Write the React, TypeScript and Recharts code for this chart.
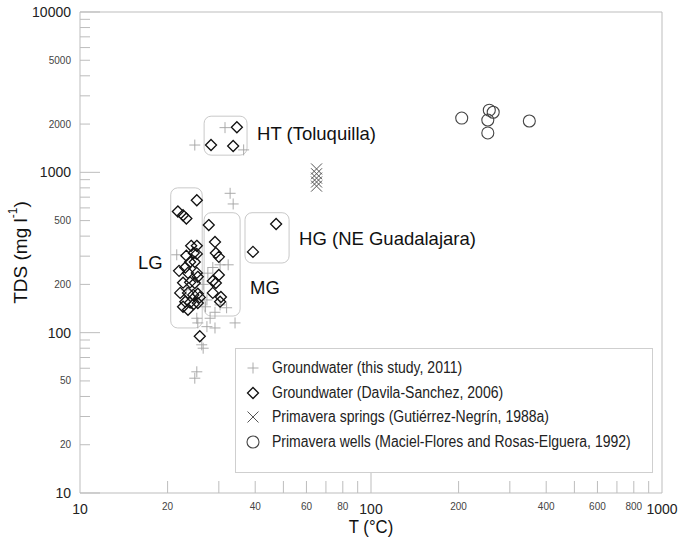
import React from "react";
import {
  Legend,
  ReferenceArea,
  ReferenceLine,
  Scatter,
  ScatterChart,
  XAxis,
  YAxis
} from "recharts";

// axis ticks (log scales)
const xTicks = [10, 20, 30, 40, 50, 60, 70, 80, 90, 100, 200, 300, 400, 500, 600, 700, 800, 900, 1000];
const xTickLabels = [10, 20, 40, 60, 80, 100, 200, 400, 600, 800, 1000];
const yTicks = [
  10, 20, 30, 40, 50, 60, 70, 80, 90,
  100, 200, 300, 400, 500, 600, 700, 800, 900,
  1000, 2000, 3000, 4000, 5000, 6000, 7000, 8000, 9000, 10000
];
const yTickLabels = [10, 20, 50, 100, 200, 500, 1000, 2000, 5000, 10000];
const decades = [10, 100, 1000, 10000];

// [T (°C), TDS (mg/l)]
const gwThisStudy: [number, number][] = [
  [24.8, 1480], [31.5, 1900], [36.5, 1380], [32.8, 740], [33.6, 635],
  [21.5, 306], [27.5, 235], [28.6, 255], [30.3, 265], [32.3, 265],
  [27.3, 160], [30.3, 149], [31.9, 143], [29.1, 134], [28.0, 123],
  [25.2, 123], [27.3, 109], [29.1, 107], [34.1, 115], [25.4, 115],
  [26.2, 84], [26.5, 80], [25.2, 57], [24.8, 52], [23.2, 185],
  [24.8, 160], [26.5, 200], [27.0, 145]
];
const gwDavila: [number, number][] = [
  [28.2, 1480], [33.6, 1460], [34.6, 1910],
  [25.2, 670], [21.7, 570], [22.6, 540], [23.2, 515],
  [24.1, 348], [25.2, 348], [24.6, 314], [25.2, 310], [23.2, 302],
  [23.9, 276], [24.8, 276], [21.9, 243], [23.0, 255], [23.5, 236],
  [25.2, 236], [25.4, 223], [22.6, 205], [23.9, 206], [24.8, 204],
  [22.1, 177], [23.5, 177], [24.5, 172], [25.4, 175], [25.8, 166],
  [23.0, 156], [23.9, 154], [24.6, 151], [22.6, 145], [23.5, 139],
  [25.4, 153], [25.8, 95],
  [27.7, 469], [29.1, 368], [29.3, 314], [30.0, 297], [30.0, 229],
  [28.6, 210], [29.3, 204], [28.6, 177], [30.5, 167], [30.3, 156],
  [47.2, 476], [39.3, 319]
];
const primaveraSprings: [number, number][] = [
  [65, 1050], [65, 980], [65, 920], [65, 870], [65, 820]
];
const primaveraWells: [number, number][] = [
  [205, 2180], [255, 2440], [263, 2370], [252, 2120], [252, 1760], [350, 2090]
];

// group outlines: T range, TDS range
const groupNames = ["HT (Toluquilla)", "LG", "MG", "HG (NE Guadalajara)"];
const groupT: [number, number][] = [[26.7, 37.5], [20.5, 26.3], [26.7, 35.5], [36.9, 52.3]];
const groupTds: [number, number][] = [[1280, 2240], [107, 800], [127, 560], [272, 560]];

const legendNames = [
  "Groundwater (this study, 2011)",
  "Groundwater (Davila-Sanchez, 2006)",
  "Primavera springs (Gutiérrez-Negrín, 1988a)",
  "Primavera wells (Maciel-Flores and Rosas-Elguera, 1992)"
];

const toPoints = (rows: [number, number][]) => rows.map(([t, tds]) => ({ t, tds }));

const FONT = "'Liberation Sans', Arial, sans-serif";
const AXIS = "#bdbdbd";

function Marker({ kind, cx, cy, s }: { kind: number; cx: number; cy: number; s: number }) {
  if (kind === 0)
    return (
      <g stroke="#a3a3a3" strokeWidth={0.9}>
        <line x1={cx - s} x2={cx + s} y1={cy} y2={cy} />
        <line x1={cx} x2={cx} y1={cy - s} y2={cy + s} />
      </g>
    );
  if (kind === 1)
    return (
      <polygon
        points={`${cx},${cy - s} ${cx + s},${cy} ${cx},${cy + s} ${cx - s},${cy}`}
        fill="none"
        stroke="#111"
        strokeWidth={1.3}
      />
    );
  if (kind === 2)
    return (
      <g stroke="#555" strokeWidth={1}>
        <line x1={cx - s} x2={cx + s} y1={cy - s} y2={cy + s} />
        <line x1={cx - s} x2={cx + s} y1={cy + s} y2={cy - s} />
      </g>
    );
  return <circle cx={cx} cy={cy} r={s} fill="none" stroke="#444" strokeWidth={1.1} />;
}

const XTick = (props: any) => {
  const { x, y, payload } = props;
  const v = payload.value;
  const big = v === 10 || v === 100 || v === 1000;
  const len = v === 100 ? 26 : v === 10 || v === 1000 ? 0 : 12;
  return (
    <g>
      {len > 0 && <line x1={x} x2={x} y1={y} y2={y - len} stroke={AXIS} />}
      {xTickLabels.includes(v) && (
        <text
          x={x}
          y={big ? y + 16 : y + 13}
          textAnchor="middle"
          dominantBaseline="central"
          fontSize={big ? 14 : 10}
          fontFamily={FONT}
          fill={big ? "#222" : "#444"}
        >
          {v}
        </text>
      )}
    </g>
  );
};

const YTick = (props: any) => {
  const { x, y, payload } = props;
  const v = payload.value;
  const big = decades.includes(v);
  return (
    <g>
      <line x1={x} x2={x + (big ? 20 : 10)} y1={y} y2={y} stroke={AXIS} />
      {yTickLabels.includes(v) && (
        <text
          x={x - 9}
          y={y}
          textAnchor="end"
          dominantBaseline="central"
          fontSize={big ? 14 : 10}
          fontFamily={FONT}
          fill={big ? "#222" : "#444"}
        >
          {v}
        </text>
      )}
    </g>
  );
};

const groupLabel = (text: string, side: "left" | "right", frac: number) => (props: any) => {
  const vb = props.viewBox;
  if (!vb) return null;
  return (
    <text
      x={side === "left" ? vb.x - 8 : vb.x + vb.width + 10}
      y={vb.y + vb.height * frac}
      textAnchor={side === "left" ? "end" : "start"}
      dominantBaseline="central"
      fontSize={18.5}
      fontFamily={FONT}
      fill="#111"
    >
      {text}
    </text>
  );
};

const labelPlacement: { side: "left" | "right"; frac: number }[] = [
  { side: "right", frac: 0.44 },
  { side: "left", frac: 0.53 },
  { side: "right", frac: 0.72 },
  { side: "right", frac: 0.52 }
];

const roundedBox = (p: any) => (
  <rect x={p.x} y={p.y} width={p.width} height={p.height} rx={7} fill="none" stroke="#c9c9c9" strokeWidth={1} />
);

const renderLegend = () => (
  <div
    style={{
      width: 418,
      height: 125,
      boxSizing: "border-box",
      border: "1px solid #cfcfcf",
      background: "#fff",
      paddingTop: 7,
      fontFamily: FONT,
      fontSize: 16,
      color: "#222",
      overflow: "hidden"
    }}
  >
    {legendNames.map((name, i) => (
      <div key={name} style={{ display: "flex", alignItems: "center", height: 24.5 }}>
        <svg width={36} height={20} style={{ flex: "none" }}>
          <Marker kind={i} cx={17} cy={10} s={i === 3 ? 6 : 5.5} />
        </svg>
        <span
          style={{
            whiteSpace: "nowrap",
            display: "inline-block",
            transform: "scaleX(0.875)",
            transformOrigin: "left center"
          }}
        >
          {name}
        </span>
      </div>
    ))}
  </div>
);

export default function App() {
  const series = [gwThisStudy, gwDavila, primaveraSprings, primaveraWells];
  return (
    <div style={{ position: "absolute", left: 0, top: 0, background: "#fff" }}>
      <ScatterChart width={679} height={545} margin={{ top: 12, right: 17, bottom: 11, left: 8 }}>
        <XAxis
          type="number"
          dataKey="t"
          scale="log"
          domain={[10, 1000]}
          allowDataOverflow
          ticks={xTicks}
          interval={0}
          tickSize={0}
          tickMargin={0}
          tick={<XTick />}
          stroke={AXIS}
          height={41}
          label={{
            content: (p: any) => {
              const vb = p.viewBox;
              if (!vb) return null;
              const cx = vb.x + vb.width / 2;
              const cy = vb.y + 34;
              return (
                <text
                  transform={`translate(${cx},${cy}) scale(0.88,1)`}
                  textAnchor="middle"
                  dominantBaseline="central"
                  fontSize={19}
                  fontFamily={FONT}
                  fill="#111"
                >
                  T (°C)
                </text>
              );
            }
          }}
        />
        <YAxis
          type="number"
          dataKey="tds"
          scale="log"
          domain={[10, 10000]}
          allowDataOverflow
          ticks={yTicks}
          interval={0}
          tickSize={0}
          tickMargin={0}
          tick={<YTick />}
          stroke={AXIS}
          width={72}
          label={{
            content: (p: any) => {
              const vb = p.viewBox;
              if (!vb) return null;
              const cx = vb.x + 12;
              const cy = vb.y + vb.height / 2;
              return (
                <text
                  transform={`translate(${cx},${cy}) rotate(-90)`}
                  textAnchor="middle"
                  dominantBaseline="central"
                  fontSize={19}
                  fontFamily={FONT}
                  fill="#111"
                >
                  TDS (mg l
                  <tspan fontSize={12} dy={-7}>-1</tspan>
                  <tspan dy={7}>)</tspan>
                </text>
              );
            }
          }}
        />
        <ReferenceLine y={10000} stroke={AXIS} />
        <ReferenceLine x={1000} stroke={AXIS} />
        {groupNames.map((name, i) => (
          <ReferenceArea
            key={name}
            x1={groupT[i][0]}
            x2={groupT[i][1]}
            y1={groupTds[i][0]}
            y2={groupTds[i][1]}
            shape={roundedBox}
            label={groupLabel(name, labelPlacement[i].side, labelPlacement[i].frac)}
          />
        ))}
        {series.map((rows, i) => (
          <Scatter
            key={legendNames[i]}
            name={legendNames[i]}
            data={toPoints(rows)}
            isAnimationActive={false}
            shape={(p: any) => <Marker kind={i} cx={p.cx} cy={p.cy} s={i === 3 ? 6 : 5.5} />}
          />
        ))}
        <Legend
          layout="horizontal"
          verticalAlign="middle"
          align="center"
          content={renderLegend}
          wrapperStyle={{ left: 235, top: 348, width: 418, height: 125 }}
        />
      </ScatterChart>
    </div>
  );
}
